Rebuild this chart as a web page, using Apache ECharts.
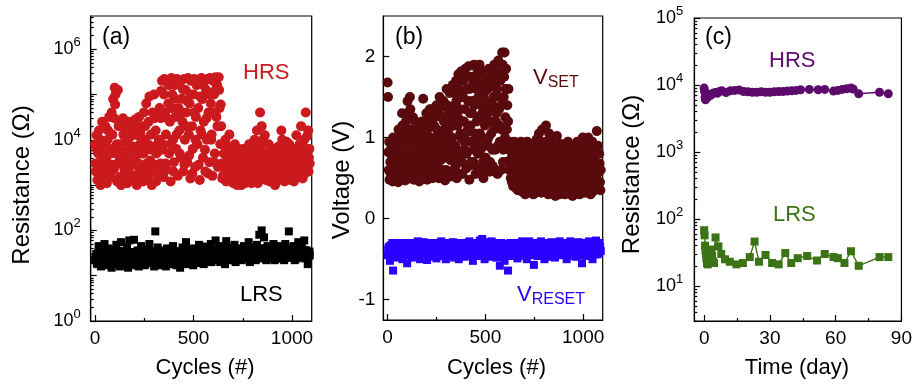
<!DOCTYPE html>
<html>
<head>
<meta charset="utf-8">
<script src="https://cdn.jsdelivr.net/npm/echarts@6.0.0/dist/echarts.min.js"></script>
<style>
  html, body { margin: 0; padding: 0; background: #fff; }
  #chart { width: 915px; height: 386px; }
</style>
</head>
<body>
<div id="chart"></div>
<script>
// (a) resistance vs cycles, [cycle, ohm]
const hrsA = [[0,7900],[4,2000],[8,12600],[12,1300],[16,5000],[20,16000],[24,3200],[28,1000],[32,8000],[36,25000],[40,2500],[44,6300],[48,1600],[52,20000],[56,4000],[60,1100],[64,10000],[68,3000],[72,32000],[76,6300],[80,1500],[84,40000],[88,13000],[92,79000],[96,2200],[100,140000],[104,100000],[108,5000],[112,1200],[116,126000],[120,20000],[124,3500],[128,8000],[132,1000],[136,25000],[140,2800],[144,13000],[148,1400],[152,5000],[156,20000],[160,3200],[164,1100],[168,10000],[172,2000],[176,25000],[180,6300],[184,1300],[188,16000],[192,3500],[196,7000],[200,1600],[204,28000],[208,4500],[212,1000],[216,12600],[220,2500],[224,32000],[228,8000],[232,1800],[236,20000],[240,5000],[244,1200],[248,40000],[252,10000],[256,2200],[260,63000],[264,6300],[268,1400],[272,25000],[276,90000],[280,3500],[284,13000],[288,1000],[292,40000],[296,7000],[300,100000],[304,2800],[308,16000],[312,5000],[316,32000],[320,1600],[324,10000],[328,50000],
  [2,3000],[10,6000],[18,1800],[26,10000],[34,4000],[42,1200],[50,7000],[58,2500],[66,16000],[74,1800],[82,5000],[90,2800],[98,30000],[102,60000],[110,8000],[118,3000],[126,1500],[134,6000],[142,30000],[150,2200],[158,9000],[166,4000],[174,1500],[182,12000],[190,2800],[198,20000],[206,1300],[214,6000],[222,3000],[230,14000],[238,1600],[246,5000],[254,20000],[262,3000],[270,8000],[278,1800],[286,6000],[294,2500],[302,30000],[310,1200],[318,8000],[326,2200],
  [332,3000],[336,120000],[340,200000],[344,8000],[348,1500],[352,220000],[356,40000],[360,13000],[364,2200],[368,200000],[372,63000],[376,5000],[380,25000],[384,1200],[388,230000],[392,100000],[396,10000],[400,3200],[404,160000],[408,32000],[412,6300],[416,220000],[420,1600],[424,50000],[428,16000],[432,200000],[436,4000],[440,80000],[444,25000],[448,2000],[452,220000],[456,10000],[460,126000],[464,40000],[468,3200],[472,230000],[476,13000],[480,63000],[484,1400],[488,200000],[492,20000],[496,6300],[500,100000],[504,220000],[508,2500],[512,32000],[516,160000],[520,8000],[524,50000],[528,210000],[532,1300],[536,16000],[540,230000],[544,79000],[548,4000],[552,25000],[556,200000],[560,2000],[564,126000],[568,10000],[572,220000],[576,40000],[580,3200],[584,230000],[588,63000],[592,13000],[596,1600],[600,200000],[604,100000],[608,5000],[612,240000],[616,32000],[620,160000],[624,2500],[628,240000],[632,50000],[636,8000],[640,20000],[644,3000],
  [334,30000],[342,6000],[350,100000],[358,3000],[366,30000],[374,160000],[382,8000],[390,50000],[398,2000],[406,80000],[414,13000],[422,200000],[430,5000],[438,40000],[446,130000],[454,2800],[462,20000],[470,70000],[478,4500],[486,100000],[494,1800],[502,40000],[510,10000],[518,200000],[526,2800],[534,90000],[542,13000],[550,160000],[558,6000],[566,30000],[574,1800],[582,100000],[590,10000],[598,40000],[606,3200],[614,130000],[622,20000],[630,126000],[638,60000],[646,1400],
  [650,1600],[654,5000],[658,2500],[662,10000],[666,1200],[670,3500],[674,7000],[678,2000],[682,13000],[686,4000],[690,1400],[694,6300],[698,2800],[702,1100],[706,4500],[710,8000],[714,1800],[718,3200],[722,1000],[726,5500],[730,2200],[734,1300],[738,4000],[742,1000],[746,2800],[750,6300],[754,1500],[758,3500],[762,1100],[766,2000],[770,5000],[774,1300],[778,3000],[782,8000],[786,1600],[790,4000],[794,1100],[798,2500],[802,6300],[806,1400],[810,10000],[814,3200],[818,1800],[822,16000],[826,1100],[830,5000],[834,2500],[838,40000],[842,7000],[846,20000],[850,1600],[854,4000],[858,2200],[862,12600],[866,1300],[870,5000],[874,3000],[878,1800],[882,8000],[886,1200],[890,3500],[894,2000],[898,6300],[902,1400],[906,4000],[910,2500],[914,1000],[918,5000],[922,1600],[926,3200],[930,7000],[934,1300],[938,2200],[942,4500],[946,16000],[950,10000],[954,1800],[958,3500],[962,1200],[966,6300],[970,2500],[974,1500],[978,4000],[982,2000],[986,8000],[990,1300],[994,3200],[998,5000],[1002,1800],[1006,2800],[1010,1200],[1014,6300],[1018,2200],[1022,12600],[1026,4000],[1030,1500],[1034,3500],[1038,8000],[1042,2000],[1046,20000],[1050,5000],[1054,1400],[1058,3000],[1062,10000],[1066,1800],[1070,40000],[1074,6300],[1078,2500],[1082,16000],[1086,4000],[1090,3000],
  [652,3000],[660,1800],[668,6000],[676,1300],[684,2500],[692,5000],[700,2000],[708,1300],[716,4500],[724,1600],[732,3000],[740,6000],[748,1200],[756,2500],[764,4000],[772,2000],[780,1500],[788,2800],[796,5000],[804,2000],[812,1300],[820,3500],[828,7000],[836,1800],[844,3000],[852,10000],[860,5000],[868,2000],[876,1400],[884,3000],[892,5500],[900,2200],[908,1200],[916,3000],[924,4500],[932,2000],[940,1500],[948,3000],[956,6000],[964,2200],[972,9000],[980,1400],[988,3500],[996,2200],[1004,4500],[1012,2800],[1020,1500],[1028,6000],[1036,2500],[1044,4000],[1052,2000],[1060,5000],[1068,2500],[1076,12000],[1084,2000],[1088,6300]];

const lrsA = [[0,22],[6,30],[12,18],[18,45],[24,25],[30,16],[36,35],[42,20],[48,50],[54,28],[60,17],[66,40],[72,23],[78,32],[84,15],[90,27],[96,38],[102,19],[108,48],[114,25],[120,30],[126,16],[132,55],[138,22],[144,34],[150,18],[156,28],[162,42],[168,15],[174,60],[180,24],[186,33],[192,17],[198,62],[204,26],[210,20],[216,36],[222,16],[228,30],[234,45],[240,21],[246,28],[252,17],[258,38],[264,24],[270,32],[276,50],[282,19],[288,27],[294,35],[300,16],[306,95],[312,25],[318,42],[324,20],[330,30],[336,17],[342,36],[348,24],[354,28],[360,16],[366,40],[372,22],[378,33],[384,18],[390,26],[396,45],[402,20],[408,30],[414,17],[420,35],[426,24],[432,15],[438,28],[444,42],[450,20],[456,32],[462,55],[468,18],[474,26],[480,38],[486,22],[492,30],[498,17],[504,40],[510,25],[516,33],[522,19],[528,48],[534,27],[540,21],[546,36],[552,18],[558,30],[564,44],[570,24],[576,35],[582,20],[588,50],[594,28],[600,38],[606,22],[612,60],[618,30],[624,26],[630,45],[636,20],[642,34],[648,28],[654,40],[660,18],[666,58],[672,30],[678,25],[684,42],[690,22],[696,36],[702,28],[708,48],[714,20],[720,32],[726,40],[732,26],[738,35],[744,22],[750,30],[756,45],[762,24],[768,38],[774,28],[780,55],[786,20],[792,34],[798,42],[804,26],[810,36],[816,22],[822,48],[828,30],[834,80],[840,40],[846,100],[852,27],[858,70],[864,35],[870,22],[876,45],[882,30],[888,25],[894,40],[900,28],[906,50],[912,22],[918,36],[924,30],[930,45],[936,24],[942,38],[948,28],[954,34],[960,22],[966,50],[972,30],[978,40],[984,95],[990,26],[996,36],[1002,30],[1008,45],[1014,22],[1020,38],[1026,28],[1032,55],[1038,32],[1044,25],[1050,42],[1056,30],[1062,60],[1068,24],[1074,36],[1080,18],[1086,32],[1090,28],
  [3,26],[9,19],[15,32],[21,22],[27,28],[33,17],[39,30],[45,24],[51,20],[57,34],[63,25],[69,18],[75,29],[81,22],[87,33],[93,20],[99,26],[105,31],[111,18],[117,24],[123,35],[129,21],[135,27],[141,19],[147,30],[153,24],[159,17],[165,28],[171,22],[177,33],[183,19],[189,26],[195,30],[201,18],[207,24],[213,29],[219,21],[225,33],[231,19],[237,26],[243,31],[249,22],[255,18],[261,28],[267,24],[273,34],[279,20],[285,26],[291,22],[297,30],[303,19],[309,27],[315,33],[321,23],[327,18],[333,28],[339,24],[345,31],[351,20],[357,26],[363,22],[369,30],[375,19],[381,27],[387,33],[393,23],[399,18],[405,28],[411,25],[417,32],[423,20],[429,27],[435,22],[441,34],[447,19],[453,26],[459,30],[465,23],[471,20],[477,29],[483,25],[489,35],[495,21],[501,28],[507,23],[513,31],[519,20],[525,27],[531,33],[537,24],[543,19],[549,29],[555,25],[561,36],[567,21],[573,28],[579,32],[585,24],[591,20],[597,30],[603,27],[609,34],[615,23],[621,29],[627,36],[633,25],[639,31],[645,22],[651,30],[657,26],[663,35],[669,23],[675,32],[681,27],[687,38],[693,25],[699,31],[705,22],[711,29],[717,35],[723,26],[729,31],[735,23],[741,37],[747,27],[753,32],[759,24],[765,30],[771,36],[777,26],[783,33],[789,24],[795,30],[801,38],[807,27],[813,33],[819,25],[825,31],[831,37],[837,26],[843,32],[849,24],[855,30],[861,40],[867,27],[873,33],[879,25],[885,36],[891,29],[897,34],[903,24],[909,31],[915,27],[921,38],[927,25],[933,32],[939,28],[945,35],[951,24],[957,30],[963,27],[969,36],[975,25],[981,32],[987,28],[993,38],[999,25],[1005,31],[1011,27],[1017,35],[1023,24],[1029,32],[1035,28],[1041,36],[1047,26],[1053,33],[1059,28],[1065,37],[1071,25],[1077,31],[1083,27],[1089,34]];

// (b) switching voltages vs cycles, [cycle, volt]
const vSet = [[0,1.68],[2,1.5],[4,0.82],[6,0.6],[10,0.48],[14,0.7],[18,0.55],[22,0.9],[26,0.46],[30,0.65],[34,0.8],[38,0.5],[42,0.72],[46,0.58],[50,0.95],[54,0.45],[58,0.68],[62,1.05],[66,0.52],[70,0.85],[74,1.3],[78,0.6],[82,0.75],[86,1.0],[90,0.47],[94,1.2],[98,0.66],[102,1.45],[106,0.9],[110,0.5],[114,1.5],[118,1.1],[122,0.62],[126,0.8],[130,1.25],[134,0.48],[138,0.95],[142,0.7],[146,1.1],[150,0.55],[154,0.85],[158,1.0],[162,0.46],[166,0.75],[170,1.15],[174,0.6],[178,0.9],[182,1.48],[186,0.52],[190,1.05],[194,0.7],[198,1.3],[202,0.48],[206,0.88],[210,1.2],[214,0.62],[218,1.0],[222,0.78],[226,1.35],[230,0.5],[234,0.95],[238,1.15],[242,0.58],[246,0.82],[250,1.4],[254,0.68],[258,1.05],[262,0.5],[266,1.5],[270,0.9],[274,1.25],[278,0.6],[282,0.75],[286,1.45],[290,1.1],[294,0.47],[298,0.85],[302,1.6],[306,0.98],[310,1.3],[314,0.55],[318,1.55],[322,0.72],[326,1.2],[330,1.0],
  [8,0.95],[12,0.58],[16,0.85],[20,0.48],[24,0.75],[28,1.0],[32,0.55],[36,0.68],[40,0.9],[44,0.5],[48,0.78],[52,0.62],[56,1.1],[60,0.55],[64,0.8],[68,0.95],[72,0.5],[76,1.15],[80,0.65],[84,0.88],[88,0.55],[92,0.78],[96,1.05],[100,0.6],[104,1.3],[108,0.72],[112,0.95],[116,1.35],[120,0.55],[124,1.0],[128,0.7],[132,0.9],[136,0.6],[140,1.2],[144,0.5],[148,0.8],[152,1.05],[156,0.65],[160,0.9],[164,0.55],[168,1.0],[172,0.75],[176,1.2],[180,0.5],[184,0.82],[188,1.1],[192,0.6],[196,0.95],[200,0.75],[204,1.1],[208,0.55],[212,0.85],[216,1.35],[220,0.6],[224,0.95],[228,1.15],[232,0.7],[236,0.52],[240,1.25],[244,0.9],[248,0.62],[252,1.1],[256,0.8],[260,1.3],[264,0.55],[268,1.0],[272,0.72],[276,1.38],[280,0.95],[284,0.55],[288,1.2],[292,0.8],[296,1.05],[300,0.6],[304,1.4],[308,0.75],[312,1.1],[316,0.9],[320,1.35],[324,0.52],[328,0.85],
  [334,1.65],[338,0.6],[342,1.4],[346,0.9],[350,1.7],[354,0.5],[358,1.15],[362,1.78],[366,0.75],[370,1.35],[374,1.0],[378,1.82],[382,0.55],[386,1.5],[390,1.2],[394,0.85],[398,1.85],[402,0.62],[406,1.6],[410,1.1],[414,1.88],[418,0.48],[422,1.3],[426,0.95],[430,1.75],[434,1.45],[438,0.7],[442,1.9],[446,1.05],[450,0.55],[454,1.6],[458,1.85],[462,0.8],[466,1.25],[470,1.9],[474,0.6],[478,1.4],[482,1.0],[486,1.82],[490,0.5],[494,1.55],[498,1.15],[502,0.75],[506,1.7],[510,1.3],[514,0.9],[518,1.85],[522,0.58],[526,1.45],[530,1.05],[534,1.75],[538,0.65],[542,1.5],[546,1.9],[550,0.85],[554,1.2],[558,1.6],[562,0.55],[566,1.95],[570,1.35],[574,0.95],[578,1.8],[582,1.1],[586,2.05],[590,0.7],[594,1.5],[598,2.05],[602,1.25],[606,1.85],[610,1.1],[614,0.9],[618,1.6],[622,0.6],
  [332,1.3],[336,0.8],[340,1.55],[344,1.15],[348,0.65],[352,1.45],[356,0.85],[360,1.25],[364,1.6],[368,0.55],[372,1.05],[376,1.5],[380,0.7],[384,1.2],[388,1.7],[392,0.95],[396,1.35],[400,1.05],[404,0.8],[408,1.75],[412,1.45],[416,0.65],[420,1.6],[424,1.15],[428,0.7],[432,1.3],[436,1.65],[440,0.85],[444,1.4],[448,1.75],[452,0.95],[456,1.2],[460,0.62],[464,1.5],[468,1.7],[472,1.05],[476,0.85],[480,1.65],[484,1.3],[488,0.7],[492,1.75],[496,0.9],[500,1.45],[504,1.2],[508,0.6],[512,1.6],[516,1.0],[520,1.35],[524,0.7],[528,1.7],[532,1.2],[536,0.85],[540,1.4],[544,1.1],[548,1.65],[552,0.6],[556,1.3],[560,1.8],[564,0.9],[568,1.5],[572,1.15],[576,1.7],[580,0.6],[584,1.4],[588,1.9],[592,0.85],[596,1.75],[600,1.0],[604,1.6],[608,0.7],[612,1.4],[616,1.2],[620,0.85],
  [626,0.95],[630,0.5],[634,0.75],[638,0.9],[642,0.4],[646,0.62],[650,0.85],[654,0.45],[658,0.7],[662,0.92],[666,0.35],[670,0.58],[674,0.8],[678,0.42],[682,0.95],[686,0.65],[690,0.33],[694,0.78],[698,0.5],[702,0.88],[706,0.4],[710,0.6],[714,0.95],[718,0.32],[722,0.72],[726,0.48],[730,0.85],[734,0.38],[738,0.62],[742,0.92],[746,0.3],[750,0.55],[754,0.78],[758,0.42],[762,0.98],[766,0.35],[770,0.65],[774,1.05],[778,0.45],[782,0.8],[786,0.32],[790,1.1],[794,0.58],[798,0.9],[802,0.38],[806,0.7],[810,1.15],[814,0.5],[818,0.85],[822,0.3],[826,1.05],[830,0.62],[834,0.42],[838,0.95],[842,0.33],[846,0.75],[850,0.5],[854,0.88],[858,0.28],[862,0.65],[866,1.02],[870,0.4],[874,0.8],[878,0.3],[882,0.6],[886,0.92],[890,0.35],[894,0.7],[898,0.48],[902,0.85],[906,0.3],[910,0.62],[914,0.78],[918,0.4],[922,0.95],[926,0.32],[930,0.55],[934,0.72],[938,0.38],[942,0.88],[946,0.28],[950,0.6],[954,0.45],[958,0.8],[962,0.33],[966,0.68],[970,0.95],[974,0.4],[978,0.75],[982,0.3],[986,0.58],[990,0.85],[994,0.35],[998,1.0],[1002,0.5],[1006,0.7],[1010,0.32],[1014,0.9],[1018,0.45],[1022,0.62],[1026,1.0],[1030,0.38],[1034,0.8],[1038,0.3],[1042,0.55],[1046,0.95],[1050,0.42],[1054,0.72],[1058,0.35],[1062,0.88],[1066,0.5],[1070,1.08],[1074,0.65],[1078,0.38],[1082,0.8],[1086,0.45],[1090,0.6],
  [628,0.7],[632,0.9],[636,0.45],[640,0.8],[644,0.55],[648,0.95],[652,0.68],[656,0.38],[660,0.82],[664,0.5],[668,0.75],[672,0.9],[676,0.55],[680,0.7],[684,0.4],[688,0.85],[692,0.55],[696,0.92],[700,0.62],[704,0.3],[708,0.75],[712,0.5],[716,0.68],[720,0.88],[724,0.35],[728,0.6],[732,0.78],[736,0.5],[740,0.7],[744,0.42],[748,0.85],[752,0.62],[756,0.35],[760,0.72],[764,0.55],[768,0.88],[772,0.4],[776,0.7],[780,0.6],[784,0.95],[788,0.48],[792,0.75],[796,0.35],[800,0.65],[804,0.85],[808,0.45],[812,0.95],[816,0.7],[820,0.55],[824,0.9],[828,0.4],[832,0.78],[836,0.6],[840,0.85],[844,0.5],[848,0.32],[852,0.68],[856,0.55],[860,0.8],[864,0.42],[868,0.72],[872,0.58],[876,0.9],[880,0.45],[884,0.75],[888,0.32],[892,0.55],[896,0.82],[900,0.4],[904,0.68],[908,0.5],[912,0.88],[916,0.35],[920,0.6],[924,0.78],[928,0.45],[932,0.9],[936,0.55],[940,0.3],[944,0.7],[948,0.5],[952,0.85],[956,0.38],[960,0.62],[964,0.9],[968,0.45],[972,0.7],[976,0.55],[980,0.85],[984,0.4],[988,0.72],[992,0.32],[996,0.65],[1000,0.85],[1004,0.42],[1008,0.6],[1012,0.78],[1016,0.35],[1020,0.68],[1024,0.5],[1028,0.85],[1032,0.6],[1036,0.42],[1040,0.75],[1044,0.32],[1048,0.62],[1052,0.85],[1056,0.5],[1060,0.7],[1064,0.4],[1068,0.8],[1072,0.55],[1076,0.9],[1080,0.45],[1084,0.68],[1088,0.35]];

const vReset = [[0,-0.45],[6,-0.35],[12,-0.52],[18,-0.4],[24,-0.3],[28,-0.64],[34,-0.42],[40,-0.33],[46,-0.48],[52,-0.38],[58,-0.3],[64,-0.45],[70,-0.36],[76,-0.5],[82,-0.32],[88,-0.42],[94,-0.38],[100,-0.55],[106,-0.3],[112,-0.44],[118,-0.35],[124,-0.48],[130,-0.4],[136,-0.31],[142,-0.46],[148,-0.37],[154,-0.28],[160,-0.43],[166,-0.5],[172,-0.34],[178,-0.4],[184,-0.29],[190,-0.45],[196,-0.36],[202,-0.51],[208,-0.32],[214,-0.42],[220,-0.38],[226,-0.47],[232,-0.3],[238,-0.4],[244,-0.35],[250,-0.49],[256,-0.3],[262,-0.43],[268,-0.37],[274,-0.28],[280,-0.46],[286,-0.39],[292,-0.32],[298,-0.5],[304,-0.35],[310,-0.42],[316,-0.3],[322,-0.45],[328,-0.38],[334,-0.29],[340,-0.48],[346,-0.36],[352,-0.42],[358,-0.31],[364,-0.5],[370,-0.38],[376,-0.3],[382,-0.44],[388,-0.35],[394,-0.47],[400,-0.3],[406,-0.4],[412,-0.36],[418,-0.28],[424,-0.45],[430,-0.38],[436,-0.52],[442,-0.32],[448,-0.42],[454,-0.3],[460,-0.46],[466,-0.36],[472,-0.27],[478,-0.43],[484,-0.25],[490,-0.4],[496,-0.5],[502,-0.33],[508,-0.41],[514,-0.3],[520,-0.47],[526,-0.36],[532,-0.28],[538,-0.44],[544,-0.38],[550,-0.31],[556,-0.48],[562,-0.36],[568,-0.42],[574,-0.58],[580,-0.3],[586,-0.45],[592,-0.38],[598,-0.52],[604,-0.34],[610,-0.42],[616,-0.64],[622,-0.36],[628,-0.3],[634,-0.46],[640,-0.38],[646,-0.31],[652,-0.44],[658,-0.35],[664,-0.49],[670,-0.3],[676,-0.4],[682,-0.36],[688,-0.28],[694,-0.45],[700,-0.38],[706,-0.32],[712,-0.5],[718,-0.36],[724,-0.28],[730,-0.43],[736,-0.38],[742,-0.3],[748,-0.57],[754,-0.4],[760,-0.34],[766,-0.46],[772,-0.3],[778,-0.38],[784,-0.28],[790,-0.44],[796,-0.35],[802,-0.5],[808,-0.32],[814,-0.42],[820,-0.3],[826,-0.38],[832,-0.46],[838,-0.29],[844,-0.4],[850,-0.35],[856,-0.48],[862,-0.3],[868,-0.42],[874,-0.37],[880,-0.28],[886,-0.45],[892,-0.36],[898,-0.3],[904,-0.43],[910,-0.38],[916,-0.5],[922,-0.32],[928,-0.4],[934,-0.28],[940,-0.45],[946,-0.35],[952,-0.42],[958,-0.3],[964,-0.47],[970,-0.37],[976,-0.29],[982,-0.43],[988,-0.36],[994,-0.55],[1000,-0.32],[1006,-0.4],[1012,-0.3],[1018,-0.46],[1024,-0.37],[1030,-0.28],[1036,-0.43],[1042,-0.35],[1048,-0.5],[1054,-0.32],[1060,-0.41],[1066,-0.27],[1072,-0.44],[1078,-0.36],[1084,-0.3],[1090,-0.4],
  [3,-0.38],[9,-0.44],[15,-0.33],[21,-0.47],[27,-0.36],[31,-0.4],[37,-0.3],[43,-0.45],[49,-0.35],[55,-0.42],[61,-0.38],[67,-0.32],[73,-0.46],[79,-0.37],[85,-0.41],[91,-0.3],[97,-0.45],[103,-0.39],[109,-0.34],[115,-0.43],[121,-0.36],[127,-0.3],[133,-0.45],[139,-0.38],[145,-0.33],[151,-0.42],[157,-0.37],[163,-0.31],[169,-0.44],[175,-0.38],[181,-0.33],[187,-0.4],[193,-0.47],[199,-0.35],[205,-0.41],[211,-0.3],[217,-0.45],[223,-0.34],[229,-0.39],[235,-0.44],[241,-0.32],[247,-0.37],[253,-0.42],[259,-0.36],[265,-0.31],[271,-0.46],[277,-0.38],[283,-0.33],[289,-0.42],[295,-0.36],[301,-0.44],[307,-0.3],[313,-0.38],[319,-0.43],[325,-0.33],[331,-0.4],[337,-0.35],[343,-0.44],[349,-0.3],[355,-0.37],[361,-0.42],[367,-0.33],[373,-0.45],[379,-0.36],[385,-0.4],[391,-0.31],[397,-0.43],[403,-0.36],[409,-0.45],[415,-0.32],[421,-0.39],[427,-0.33],[433,-0.42],[439,-0.37],[445,-0.3],[451,-0.44],[457,-0.36],[463,-0.4],[469,-0.31],[475,-0.38],[481,-0.33],[487,-0.45],[493,-0.35],[499,-0.41],[505,-0.29],[511,-0.37],[517,-0.42],[523,-0.32],[529,-0.4],[535,-0.35],[541,-0.46],[547,-0.33],[553,-0.39],[559,-0.3],[565,-0.44],[571,-0.36],[577,-0.4],[583,-0.34],[589,-0.47],[595,-0.31],[601,-0.4],[607,-0.36],[613,-0.45],[619,-0.33],[625,-0.41],[631,-0.37],[637,-0.44],[643,-0.34],[649,-0.39],[655,-0.3],[661,-0.42],[667,-0.36],[673,-0.46],[679,-0.33],[685,-0.4],[691,-0.35],[697,-0.3],[703,-0.44],[709,-0.37],[715,-0.41],[721,-0.32],[727,-0.38],[733,-0.45],[739,-0.34],[745,-0.4],[751,-0.31],[757,-0.37],[763,-0.42],[769,-0.35],[775,-0.45],[781,-0.33],[787,-0.4],[793,-0.3],[799,-0.38],[805,-0.44],[811,-0.35],[817,-0.4],[823,-0.47],[829,-0.33],[835,-0.38],[841,-0.43],[847,-0.31],[853,-0.4],[859,-0.36],[865,-0.44],[871,-0.32],[877,-0.39],[883,-0.35],[889,-0.42],[895,-0.3],[901,-0.37],[907,-0.45],[913,-0.34],[919,-0.4],[925,-0.36],[931,-0.43],[937,-0.32],[943,-0.38],[949,-0.46],[955,-0.35],[961,-0.4],[967,-0.31],[973,-0.44],[979,-0.36],[985,-0.4],[991,-0.33],[997,-0.45],[1003,-0.37],[1009,-0.42],[1015,-0.32],[1021,-0.39],[1027,-0.34],[1033,-0.45],[1039,-0.37],[1045,-0.41],[1051,-0.3],[1057,-0.38],[1063,-0.44],[1069,-0.34],[1075,-0.39],[1081,-0.43],[1087,-0.35]];

// (c) retention, [day, ohm]
const hrsDays = [[0,9000],[0.2,8000],[0.4,6500],[0.6,6000],[0.8,6800],[1,7500],[1.5,6500],[2,7000],[2.5,7200],[3,7000],[4,7500],[5,7700],[6,7500],[7,8000],[8,8200],[10,7700],[12,8200],[14,8300],[16,8400],[18,8000],[20,7900],[22,7800],[24,7800],[26,7900],[28,7800],[30,7800],[32,7900],[34,8000],[36,8000],[38,8100],[40,8200],[42,8300],[44,8500],[48,8600],[52,8500],[55,8600],[59,8100],[61,8300],[63,8600],[65,8800],[67,9000],[68,8700],[70.5,7400],[80,7800],[84,7400]];
const lrsDays = [[0,68],[0.2,57],[0.4,40],[0.6,34],[0.8,30],[1,26],[1.3,22],[1.6,21],[2,22],[2.5,25],[3,30],[3.3,35],[3.6,28],[4,23],[4.5,22],[5.2,53],[6.5,39],[7.8,30],[9.5,25],[11.7,23],[14.7,21],[17.7,22],[20.8,27],[23,46],[25,23],[28,29],[31,22],[34,21],[37,31],[39.7,22],[42.7,26],[47,28],[51.5,24],[55,30],[59,27],[61,26],[64,22],[67,33],[70.5,20],[80,27],[84,27]];

// ticks
const cycleTicks = [0, 500, 1000];
const cycleMinorTicks = [250, 750];
const resTicksA = [1, 10, 100, 1e3, 1e4, 1e5, 1e6];
const resLabelsA = [1, 100, 1e4, 1e6];
const voltTicks = [-1, 0, 1, 2];
const dayTicks = [0, 30, 60, 90];
const dayMinorTicks = [15, 45, 75];
const resTicksC = [10, 100, 1e3, 1e4, 1e5];

const FONT = "'Liberation Sans', Arial, sans-serif";
const LINE = { color: '#000', width: 1.2 };

function logMinor(lo, hi) {
  const out = [];
  for (let d = 1; d < hi; d *= 10) {
    for (let k = 2; k <= 9; k++) {
      const v = k * d;
      if (v >= lo && v <= hi) out.push(v);
    }
  }
  return out;
}

function plainFmt(v) { return String(v); }
function supFmt(v) {
  return '{b|10}{s|' + Math.round(Math.log10(v)) + '}';
}
const supRich = {
  b: { fontSize: 18, lineHeight: 26, fontFamily: FONT, color: '#000' },
  s: { fontSize: 13, lineHeight: 13, verticalAlign: 'top', fontFamily: FONT, color: '#000' }
};

function mainAxis(type, gridIndex, min, max, ticks, labels, pos, margin, extra) {
  return Object.assign({
    type: type, gridIndex: gridIndex, min: min, max: max, position: pos,
    axisLine: { show: true, onZero: false, lineStyle: LINE },
    axisTick: { show: true, inside: true, length: 6, customValues: ticks, lineStyle: LINE },
    axisLabel: { show: true, customValues: labels, margin: margin, color: '#000', fontSize: 19,
      fontFamily: FONT, formatter: plainFmt },
    splitLine: { show: false }
  }, extra || {});
}
function minorAxis(type, gridIndex, min, max, ticks, pos) {
  return {
    type: type, gridIndex: gridIndex, min: min, max: max, position: pos,
    axisLine: { show: false, onZero: false },
    axisTick: { show: true, inside: true, length: 3, customValues: ticks, lineStyle: LINE },
    axisLabel: { show: false },
    splitLine: { show: false }
  };
}

const chart = echarts.init(document.getElementById('chart'));

const gridBox = { show: true, borderColor: '#000', borderWidth: 1.2, backgroundColor: 'transparent' };

function txt(x, y, text, color, size) {
  return {
    type: 'text', x: x, y: y, silent: true,
    style: { text: text, fill: color, font: size + 'px ' + FONT, textAlign: 'left', textVerticalAlign: 'middle' }
  };
}
function subTxt(x, y, main, sub, color) {
  return {
    type: 'text', x: x, y: y, silent: true,
    style: {
      text: '{v|' + main + '}{s|' + sub + '}', textAlign: 'left', textVerticalAlign: 'middle',
      rich: {
        v: { fill: color, font: '22px ' + FONT, lineHeight: 26 },
        s: { fill: color, font: '16px ' + FONT, lineHeight: 17, verticalAlign: 'bottom' }
      }
    }
  };
}
function rotTitle(x, y, text) {
  return {
    type: 'text', x: x, y: y, rotation: Math.PI / 2, silent: true,
    style: { text: text, fill: '#000', font: '24px ' + FONT, textAlign: 'center', textVerticalAlign: 'middle' }
  };
}
function xTitle(x, y, text) {
  return {
    type: 'text', x: x, y: y, silent: true,
    style: { text: text, fill: '#000', font: '22px ' + FONT, textAlign: 'center', textVerticalAlign: 'middle' }
  };
}

const option = {
  animation: false,
  backgroundColor: '#fff',
  textStyle: { fontFamily: FONT, color: '#000' },
  grid: [
    Object.assign({ left: 90.7, top: 16, width: 221, height: 305 }, gridBox),
    Object.assign({ left: 383.3, top: 16, width: 219.4, height: 304 }, gridBox),
    Object.assign({ left: 694.3, top: 18, width: 208, height: 303 }, gridBox)
  ],
  xAxis: [
    mainAxis('value', 0, -22, 1100, cycleTicks, cycleTicks, 'bottom', 8),
    minorAxis('value', 0, -22, 1100, cycleMinorTicks, 'bottom'),
    mainAxis('value', 1, -22, 1100, cycleTicks, cycleTicks, 'bottom', 8),
    minorAxis('value', 1, -22, 1100, cycleMinorTicks, 'bottom'),
    mainAxis('value', 2, -4.5, 90, dayTicks, dayTicks, 'bottom', 8),
    minorAxis('value', 2, -4.5, 90, dayMinorTicks, 'bottom')
  ],
  yAxis: [
    mainAxis('log', 0, 1, 5.4e6, resTicksA, resLabelsA, 'left', 10, { logBase: 10 }),
    minorAxis('log', 0, 1, 5.4e6, logMinor(1, 5.4e6), 'left'),
    mainAxis('value', 1, -1.25, 2.5, voltTicks, voltTicks, 'left', 8),
    mainAxis('log', 2, 3, 1e5, resTicksC, resTicksC, 'left', 11, { logBase: 10 }),
    minorAxis('log', 2, 3, 1e5, logMinor(3, 1e5), 'left')
  ],
  series: [
    { name: 'HRS', type: 'scatter', xAxisIndex: 0, yAxisIndex: 0, data: hrsA, symbol: 'circle', symbolSize: 10,
      itemStyle: { color: '#cb1a1e', opacity: 1 }, silent: true },
    { name: 'LRS', type: 'scatter', xAxisIndex: 0, yAxisIndex: 0, data: lrsA, symbol: 'rect', symbolSize: 8,
      itemStyle: { color: '#000', opacity: 1 }, silent: true },
    { name: 'VSET', type: 'scatter', xAxisIndex: 2, yAxisIndex: 2, data: vSet, symbol: 'circle', symbolSize: 10,
      itemStyle: { color: '#580a0d', opacity: 1 }, silent: true },
    { name: 'VRESET', type: 'scatter', xAxisIndex: 2, yAxisIndex: 2, data: vReset, symbol: 'rect', symbolSize: 8,
      itemStyle: { color: '#2a00ff', opacity: 1 }, silent: true },
    { name: 'HRS ret', type: 'line', xAxisIndex: 4, yAxisIndex: 3, data: hrsDays, symbol: 'circle', symbolSize: 9,
      itemStyle: { color: '#5e0a6c' }, lineStyle: { color: '#5e0a6c', width: 1.4 }, silent: true },
    { name: 'LRS ret', type: 'line', xAxisIndex: 4, yAxisIndex: 3, data: lrsDays, symbol: 'rect', symbolSize: 8,
      itemStyle: { color: '#3b7416' }, lineStyle: { color: '#3b7416', width: 1.4 }, silent: true }
  ],
  graphic: [
    rotTitle(22.5, 185, 'Resistance (Ω)'),
    rotTitle(342.5, 180, 'Voltage (V)'),
    rotTitle(632, 174.5, 'Resistance (Ω)'),
    xTitle(205, 368, 'Cycles (#)'),
    xTitle(496.5, 368, 'Cycles (#)'),
    xTitle(797, 368, 'Time (day)'),
    txt(102, 38, '(a)', '#000', 23),
    txt(395, 38, '(b)', '#000', 23),
    txt(705, 38, '(c)', '#000', 23),
    txt(243, 72.5, 'HRS', '#cb1a1e', 22),
    txt(240, 295, 'LRS', '#000', 22),
    subTxt(533, 78, 'V', 'SET', '#580a0d'),
    subTxt(517, 295, 'V', 'RESET', '#2a00ff'),
    txt(769, 60.5, 'HRS', '#5e0a6c', 22),
    txt(773, 215, 'LRS', '#3b7416', 22)
  ]
};

option.yAxis[0].axisLabel.formatter = supFmt;
option.yAxis[0].axisLabel.rich = supRich;
option.yAxis[3].axisLabel.formatter = supFmt;
option.yAxis[3].axisLabel.rich = supRich;

chart.setOption(option);
</script>
</body>
</html>
